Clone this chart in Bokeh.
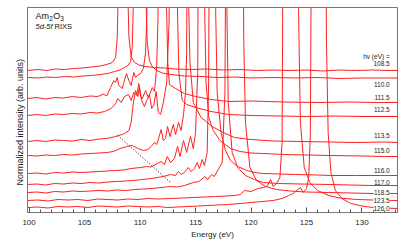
from bokeh.plotting import figure
from bokeh.models import Range1d, Label, SingleIntervalTicker, FixedTicker, Title
from bokeh.embed import file_html
from bokeh.resources import INLINE

FONT = "Liberation Sans"
RED = "#ff1f1f"

# ---- photon energies (labels) ----
hv_labels = ["108.5", "110.0", "111.5", "112.5", "113.5", "115.0",
             "116.0", "117.0", "118.5", "123.5", "126.0"]

# ---- spectra: emission energy (eV) / offset intensity (arb. units) ----
e_1085 = [99.9, 100.8, 101.6, 102.4, 103.2, 104.0, 104.8, 105.6, 106.4, 107.0, 107.5, 107.8, 107.95, 108.05, 108.2, 108.47, 108.75, 108.88, 109.0, 109.2, 109.5, 109.9, 110.5, 111.3, 112.2, 113.2, 114.5, 116, 117.5, 119, 120.5, 122, 123.5, 125, 126.5, 128, 129.5, 131, 132.5, 133.2]
v_1085 = [142, 143, 142, 143.5, 143, 144, 144.5, 145.5, 146.5, 148, 150, 155, 175, 230, 420, 900, 420, 230, 175, 156, 150, 147.5, 146, 145, 144.5, 143.5, 143, 143.5, 142.5, 143, 142, 142.5, 142, 142.5, 141.5, 142.5, 142, 142.5, 142, 142]

e_1100 = [99.9, 100.8, 101.6, 102.4, 103.2, 104.0, 104.8, 105.6, 106.4, 107.1, 107.7, 108.2, 108.6, 108.9, 109.15, 109.3, 109.42, 109.55, 109.97, 110.4, 110.52, 110.65, 110.85, 111.1, 111.5, 112, 112.8, 114, 115.5, 117, 118.5, 120, 122, 124, 126, 128, 130, 132, 133.2]
v_1100 = [135, 134.5, 135.5, 135, 136, 135.5, 136.5, 137, 138, 139, 141, 142.5, 145, 147, 151, 165, 220, 420, 900, 420, 220, 170, 152, 146, 142, 139.5, 138, 136.5, 136, 135, 135.5, 134.5, 135, 134.5, 135, 134, 134.5, 134.5, 134.5]

e_1115 = [99.9, 100.7, 101.5, 102.3, 103.1, 103.9, 104.7, 105.5, 106.2, 106.7, 107.0, 107.34, 107.64, 107.79, 107.95, 108.09, 108.4, 108.51, 108.78, 108.99, 109.2, 109.44, 109.6, 109.75, 110.05, 110.3, 110.5, 110.62, 110.75, 111.5, 112.25, 112.38, 112.5, 112.65, 113.2, 114, 115, 116.4, 118, 120, 123, 126, 129, 131.5, 133.2]
v_1115 = [114, 115, 113.5, 115, 114.5, 116, 115, 116.5, 116, 118.5, 116.5, 125, 132, 130, 135, 127, 124, 129, 139, 132, 127, 140, 135, 137, 139, 144, 160, 200, 420, 900, 420, 210, 150, 128, 124, 119, 116, 113, 111, 111.5, 110.5, 110, 110.5, 110, 110]

e_1125 = [99.9, 100.7, 101.5, 102.3, 103.1, 103.9, 104.7, 105.5, 106.2, 106.8, 107.4, 107.8, 108.0, 108.3, 108.6, 108.95, 109.2, 109.45, 109.7, 109.89, 110.05, 110.2, 110.5, 110.75, 111.1, 111.3, 111.5, 111.62, 111.75, 112.5, 113.25, 113.38, 113.5, 113.8, 114.2, 115, 116.4, 118, 120, 122.5, 125, 127.5, 130, 132, 133.2]
v_1125 = [97, 98, 97, 98.5, 98, 99, 98.5, 100, 99.5, 101, 104, 109, 114, 110, 116, 118, 112, 120, 117, 129, 116, 114, 122, 115, 125, 121, 145, 195, 420, 900, 420, 200, 140, 112, 108, 105, 101, 98, 97, 96.5, 96, 96.5, 96, 96, 96]

e_1135 = [99.9, 100.7, 101.5, 102.3, 103.1, 103.9, 104.7, 105.5, 106.3, 107.0, 107.6, 108.1, 108.6, 109.0, 109.2, 109.4, 109.6, 109.8, 109.95, 110.15, 110.4, 110.6, 110.85, 111.05, 111.25, 111.45, 111.65, 111.85, 112.1, 112.4, 112.62, 112.75, 113.5, 114.25, 114.38, 114.5, 114.8, 115.5, 116.5, 117.5, 118.5, 120, 122, 124.5, 127, 129.5, 132, 133.2]
v_1135 = [71, 72, 71, 72.5, 72, 71.5, 73, 72, 73.5, 74, 75.5, 77, 79, 82, 90, 110, 122, 116, 126, 112, 106, 112, 118, 104, 108, 121, 100, 98, 110, 130, 190, 420, 900, 420, 210, 150, 110, 95, 86, 80, 75, 73, 71.5, 71, 70.5, 70, 70.5, 70]

e_1150 = [99.9, 100.7, 101.5, 102.3, 103.1, 103.9, 104.7, 105.5, 106.3, 107.0, 107.6, 108.2, 108.8, 109.3, 109.8, 110.3, 110.7, 111.0, 111.3, 111.5, 111.7, 111.9, 112.1, 112.3, 112.48, 112.7, 113.0, 113.2, 113.47, 113.7, 113.92, 114.1, 114.2, 114.3, 115.0, 115.7, 115.83, 115.95, 116.2, 116.6, 117.2, 118.15, 119, 120, 121.1, 123, 125, 127.2, 130, 132, 133.2]
v_1150 = [57, 56.5, 57.5, 57, 58, 57.5, 58.5, 59, 59.5, 60, 61, 64, 66, 67, 64, 62, 63, 66, 70, 68, 75, 83, 72, 74, 86, 76, 88, 78, 90, 82, 98, 120, 160, 420, 900, 420, 200, 130, 95, 82, 72, 64, 61, 59.5, 59, 58, 57.5, 57, 56.5, 56, 56]

e_1160 = [99.9, 100.7, 101.5, 102.3, 103.1, 103.9, 104.7, 105.5, 106.3, 107.0, 107.7, 108.5, 109.2, 110.05, 110.6, 111.0, 111.55, 111.9, 112.2, 112.45, 112.75, 113.1, 113.38, 113.6, 113.92, 114.2, 114.55, 114.8, 115.0, 115.2, 115.3, 116.0, 116.7, 116.82, 116.95, 117.3, 117.7, 118.15, 118.8, 119.65, 120.3, 121.1, 122.5, 124, 126, 127.2, 129.5, 132, 133.2]
v_1160 = [39, 39.5, 38.5, 40, 39.5, 40.5, 40, 40.5, 41, 41.5, 42, 42.5, 44, 45, 46, 45.5, 49, 51, 48, 56, 50, 54, 66, 56, 72, 60, 76, 64, 80, 140, 420, 900, 420, 200, 120, 80, 62, 52, 46, 42, 40, 39, 38.5, 38, 37.5, 37, 37, 37, 37]

e_1170 = [99.9, 100.7, 101.5, 102.3, 103.1, 103.9, 104.7, 105.5, 106.3, 107.1, 107.9, 108.7, 109.4, 110.2, 111.0, 111.55, 112.1, 112.75, 113.2, 113.45, 113.7, 114.0, 114.35, 114.6, 114.9, 115.15, 115.35, 115.6, 115.8, 116.05, 116.18, 116.3, 117.0, 117.7, 117.83, 117.95, 118.3, 118.8, 119.5, 120.3, 121.1, 122.5, 124.5, 127.2, 129, 131, 133.2]
v_1170 = [28, 28.5, 27.5, 29, 28.5, 29.5, 29, 30, 29.5, 30.5, 31, 31.5, 32, 33, 34, 35, 36, 38, 37, 41, 38, 40, 45, 41, 44, 50, 44, 53, 47, 60, 130, 420, 900, 420, 200, 110, 60, 45, 37, 33, 30, 29, 28.5, 28, 27.5, 27, 27]

e_1185 = [99.9, 100.7, 101.5, 102.3, 103.1, 103.9, 104.7, 105.5, 106.3, 107.1, 107.9, 108.7, 109.5, 110.3, 111.1, 111.9, 112.75, 113.4, 114.0, 114.8, 115.3, 115.85, 116.1, 116.45, 116.7, 117.1, 117.4, 117.65, 117.8, 118.5, 119.2, 119.35, 119.5, 119.9, 120.5, 121.3, 122.3, 123.5, 125, 127, 129, 131, 133.2]
v_1185 = [20, 20.5, 19.5, 21, 20.5, 21.5, 21, 21.5, 22, 21.5, 22.5, 22, 23, 23.5, 24, 25, 26, 25.5, 27, 30, 31, 36, 33, 38, 36, 44, 50, 120, 420, 900, 420, 170, 90, 45, 32, 26, 23, 21.5, 20.5, 20, 19.5, 19, 19]

e_1235 = [99.9, 100.8, 101.7, 102.6, 103.5, 104.4, 105.3, 106.2, 107.1, 108.0, 108.9, 109.8, 110.7, 111.6, 112.75, 113.8, 114.8, 115.8, 116.8, 117.8, 118.5, 119.05, 119.4, 120.0, 120.6, 121.15, 121.5, 121.76, 122.0, 122.3, 122.6, 122.8, 122.95, 123.56, 124.15, 124.3, 124.45, 124.8, 125.3, 126.0, 127.0, 128.0, 129.5, 131, 133.2]
v_1235 = [12, 12.5, 11.5, 13, 12.5, 13, 12, 13.5, 13, 12.5, 13.5, 13, 14, 13.5, 14, 14.5, 15, 15.5, 16, 16.5, 17, 18, 22, 21, 24, 25, 27, 33, 26, 29, 35, 70, 420, 900, 420, 190, 90, 45, 30, 22, 17, 14.5, 13, 12.5, 12]

e_1260 = [99.9, 100.8, 101.7, 102.6, 103.5, 104.4, 105.3, 106.2, 107.1, 108.0, 108.9, 109.8, 110.7, 111.6, 112.5, 113.4, 114.3, 115.2, 116.1, 117.0, 117.9, 119.05, 120.0, 121.0, 122.0, 122.8, 123.4, 123.8, 124.2, 124.46, 124.7, 125.0, 125.2, 125.35, 125.5, 126.08, 126.65, 126.8, 126.95, 127.2, 127.6, 128.2, 129, 130, 131, 132, 133.2]
v_1260 = [5, 5.5, 4.5, 6, 5.5, 6, 5, 6.5, 6, 5.5, 6.5, 6, 5.5, 6, 5, 5.5, 6, 6.5, 7, 7.5, 8, 9, 10, 11, 12, 14, 17, 19, 23, 25, 20, 24, 35, 80, 420, 900, 420, 170, 80, 40, 22, 14, 9, 6.5, 5, 4.5, 4]

spectra = [(e_1085, v_1085), (e_1100, v_1100), (e_1115, v_1115), (e_1125, v_1125),
           (e_1135, v_1135), (e_1150, v_1150), (e_1160, v_1160), (e_1170, v_1170),
           (e_1185, v_1185), (e_1235, v_1235), (e_1260, v_1260)]

# dispersing feature guide (dotted)
dotted_e = [108.0, 112.75]
dotted_v = [77, 30]

# axis ranges
x_start, x_end = 99.86, 133.2
y_start, y_end = 0, 205

# layout of the right-hand labels (text positions)
label_x = 132.5
header_y = 156.5
label_y = [149.5, 128.5, 115, 103.5, 77, 62, 42.5, 30, 20.5, 12.5, 4]

p = figure(width=415, height=241, x_range=Range1d(x_start, x_end),
           y_range=Range1d(y_start, y_end), output_backend="svg",
           toolbar_location=None, min_border_left=27, min_border_right=18,
           min_border_top=7, min_border_bottom=29)
p.background_fill_color = "white"
p.border_fill_color = "white"
p.outline_line_color = "#777777"
p.outline_line_width = 1
p.xgrid.visible = False
p.ygrid.visible = False

for e, v in spectra:
    p.line(e, v, line_color=RED, line_width=1)

p.line(dotted_e, dotted_v, line_color="black", line_width=1, line_dash="1 2")

# x axis styling
xa = p.xaxis[0]
xa.ticker = SingleIntervalTicker(interval=5, num_minor_ticks=5)
xa.axis_label = "Energy (eV)"
xa.axis_label_text_font = FONT
xa.axis_label_text_font_size = "8px"
xa.axis_label_text_font_style = "normal"
xa.axis_label_text_color = "#222222"
xa.axis_label_standoff = 2
xa.major_label_text_font = FONT
xa.major_label_text_font_size = "8px"
xa.major_label_text_color = "#222222"
xa.major_label_standoff = 7
xa.major_tick_in = 5
xa.major_tick_out = 0
xa.minor_tick_in = 3
xa.minor_tick_out = 0
xa.axis_line_color = "#777777"
xa.major_tick_line_color = "#555555"
xa.minor_tick_line_color = "#555555"

ya = p.yaxis[0]
ya.ticker = FixedTicker(ticks=[])
ya.major_tick_in = 0
ya.major_tick_out = 0
ya.minor_tick_in = 0
ya.minor_tick_out = 0
ya.major_label_standoff = 0
ya.axis_line_color = "#777777"

# y axis title, starting a little above the bottom of the frame as in the original
ytitle = Title(text="Normalized intensity (arb. units)", align="left",
               text_font=FONT, text_font_size="9px", text_font_style="normal",
               text_color="#222222", offset=27, standoff=6)
p.add_layout(ytitle, "left")

# right-hand photon energy labels
p.add_layout(Label(x=label_x, y=header_y, text="hv (eV) =", text_font=FONT,
                   text_font_size="6.5px", text_align="right",
                   text_baseline="middle", text_color="#222222"))
for txt, ly in zip(hv_labels, label_y):
    p.add_layout(Label(x=label_x, y=ly, text=txt, text_font=FONT,
                       text_font_size="6.5px", text_align="right",
                       text_baseline="middle", text_color="#222222",
                       background_fill_color="white", background_fill_alpha=1.0))

# sample title
p.add_layout(Label(x=100.58, y=197, text="Am", text_font=FONT, text_font_size="9px",
                   text_baseline="middle", text_color="#111111"))
p.add_layout(Label(x=101.82, y=194.5, text="2", text_font=FONT, text_font_size="6.5px",
                   text_baseline="middle", text_color="#111111"))
p.add_layout(Label(x=102.17, y=197, text="O", text_font=FONT, text_font_size="9px",
                   text_baseline="middle", text_color="#111111"))
p.add_layout(Label(x=102.82, y=194.5, text="3", text_font=FONT, text_font_size="6.5px",
                   text_baseline="middle", text_color="#111111"))
p.add_layout(Label(x=100.58, y=186.5, text="5d-5f", text_font=FONT, text_font_size="7.5px",
                   text_font_style="italic", text_baseline="middle", text_color="#111111"))
p.add_layout(Label(x=102.3, y=186.5, text="RIXS", text_font=FONT, text_font_size="7.5px",
                   text_baseline="middle", text_color="#111111"))

open("out.html", "w").write(file_html(p, INLINE))
